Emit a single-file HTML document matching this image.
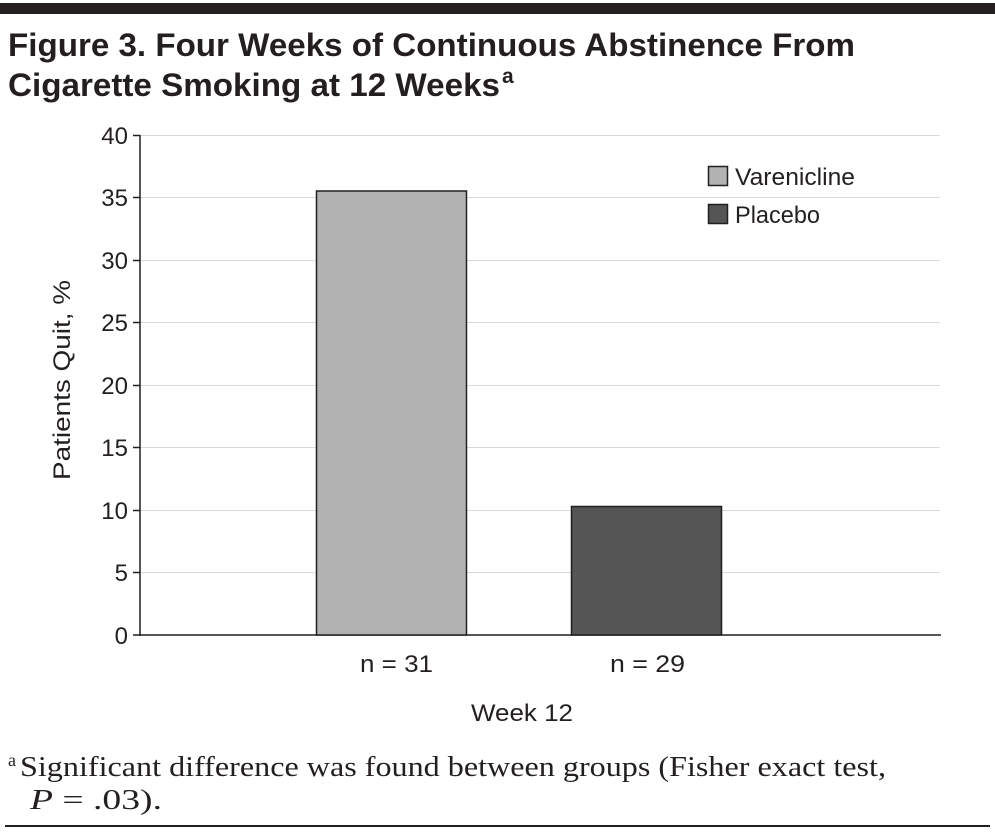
<!DOCTYPE html>
<html><head><meta charset="utf-8"><style>
body{margin:0;background:#fff;width:995px;height:832px;overflow:hidden;position:relative;font-family:"Liberation Sans",sans-serif}
</style></head><body>
<svg width="995" height="832" style="position:absolute;left:0;top:0" font-family="Liberation Sans, sans-serif" fill="#231f20">
<rect x="0" y="3" width="995" height="11" fill="#231f20"/>
<text x="8" y="56" font-size="32" font-weight="bold" textLength="847" lengthAdjust="spacingAndGlyphs">Figure 3. Four Weeks of Continuous Abstinence From</text>
<text x="8" y="96" font-size="32" font-weight="bold" textLength="492" lengthAdjust="spacingAndGlyphs">Cigarette Smoking at 12 Weeks</text>
<text x="502" y="83" font-size="21" font-weight="bold">a</text>
<g stroke="#d9d9d9" stroke-width="1">
<line x1="140" x2="940" y1="135.5" y2="135.5"/><line x1="140" x2="940" y1="197.5" y2="197.5"/><line x1="140" x2="940" y1="260.5" y2="260.5"/><line x1="140" x2="940" y1="322.5" y2="322.5"/><line x1="140" x2="940" y1="385.5" y2="385.5"/><line x1="140" x2="940" y1="447.5" y2="447.5"/><line x1="140" x2="940" y1="510.5" y2="510.5"/><line x1="140" x2="940" y1="572.5" y2="572.5"/>
</g>
<g stroke="#231f20" stroke-width="1.5">
<line x1="140" x2="140" y1="135" y2="636"/><line x1="133" x2="941" y1="635" y2="635"/>
<line x1="133" x2="140" y1="135.5" y2="135.5"/><line x1="133" x2="140" y1="197.5" y2="197.5"/><line x1="133" x2="140" y1="260.5" y2="260.5"/><line x1="133" x2="140" y1="322.5" y2="322.5"/><line x1="133" x2="140" y1="385.5" y2="385.5"/><line x1="133" x2="140" y1="447.5" y2="447.5"/><line x1="133" x2="140" y1="510.5" y2="510.5"/><line x1="133" x2="140" y1="572.5" y2="572.5"/>
</g>
<g font-size="24" text-anchor="end">
<text x="128" y="144">40</text><text x="128" y="206">35</text><text x="128" y="269">30</text><text x="128" y="331">25</text><text x="128" y="394">20</text><text x="128" y="456">15</text><text x="128" y="519">10</text><text x="128" y="581">5</text><text x="128" y="644">0</text>
</g>
<rect x="316.5" y="191" width="150" height="444" fill="#b2b2b2" stroke="#231f20" stroke-width="1.5"/>
<rect x="571.5" y="506.5" width="150" height="128.5" fill="#555" stroke="#231f20" stroke-width="1.5"/>
<rect x="708.5" y="166.5" width="19" height="19" fill="#b2b2b2" stroke="#231f20" stroke-width="1.5"/>
<rect x="708.5" y="204.5" width="19" height="19" fill="#555" stroke="#231f20" stroke-width="1.5"/>
<text x="735" y="185" font-size="24" textLength="120" lengthAdjust="spacingAndGlyphs">Varenicline</text>
<text x="735" y="223" font-size="24" textLength="85" lengthAdjust="spacingAndGlyphs">Placebo</text>
<text x="360" y="672" font-size="24" textLength="73" lengthAdjust="spacingAndGlyphs">n = 31</text>
<text x="610" y="672" font-size="24" textLength="75" lengthAdjust="spacingAndGlyphs">n = 29</text>
<text x="471" y="721" font-size="24" textLength="102" lengthAdjust="spacingAndGlyphs">Week 12</text>
<text transform="translate(70,480) rotate(-90)" font-size="24" textLength="200" lengthAdjust="spacingAndGlyphs">Patients Quit, %</text>
<g font-family="Liberation Serif, serif" font-size="29">
<text x="8" y="766" font-size="18">a</text>
<text x="20" y="776" textLength="866" lengthAdjust="spacingAndGlyphs">Significant difference was found between groups (Fisher exact test,</text>
<text x="30" y="809" textLength="132" lengthAdjust="spacingAndGlyphs"><tspan font-style="italic">P</tspan> = .03).</text>
</g>
<line x1="5" x2="990" y1="826" y2="826" stroke="#231f20" stroke-width="2"/>
</svg>
</body></html>
